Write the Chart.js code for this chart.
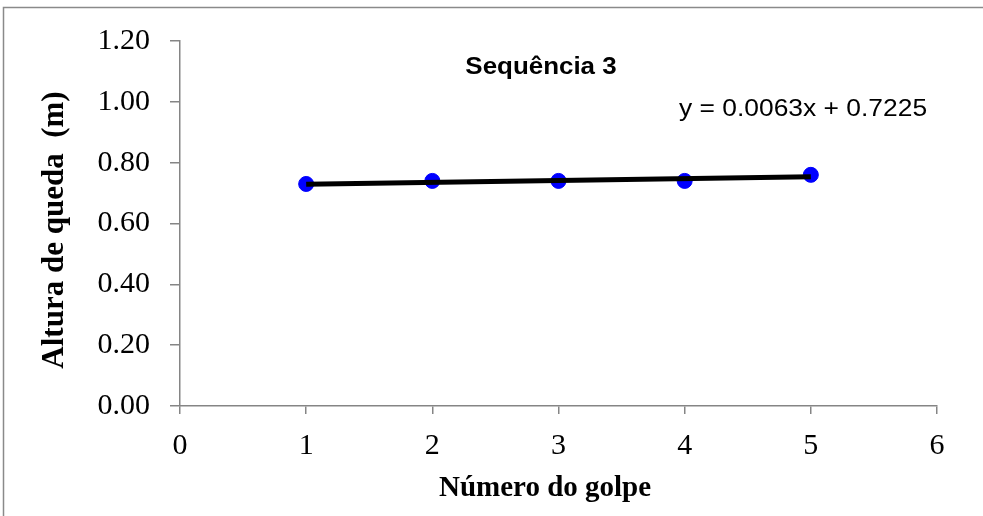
<!DOCTYPE html>
<html>
<head>
<meta charset="utf-8">
<script src="https://cdn.jsdelivr.net/npm/chart.js@4"></script>
<style>
  html, body { margin: 0; padding: 0; background: #fff; overflow: hidden; }
  #wrap { width: 983px; height: 516px; position: relative; }
  canvas { display: block; }
</style>
</head>
<body>
<div id="wrap"><canvas id="chart" width="983" height="516"></canvas></div>
<script>
// ----- Data -----
const golpes = [1, 2, 3, 4, 5];
const alturas = [0.73, 0.74, 0.74, 0.74, 0.76];

// trendline shown in the chart: y = 0.0063x + 0.7225
const trendSlope = 0.0063;
const trendIntercept = 0.7225;
const trendRange = [1, 5];

const chartTitle = "Sequência 3";
const equationText = "y = 0.0063x + 0.7225";
const xTitle = "Número do golpe";
const yTitle = "Altura de queda  (m)";

const axisGray = "#858585";

// Draws the outer frame, the titles and the trendline equation
const decorations = {
  id: "decorations",
  beforeDraw(chart) {
    const { ctx } = chart;
    ctx.save();
    ctx.fillStyle = "#fff";
    ctx.fillRect(0, 0, chart.width, chart.height);
    ctx.strokeStyle = "#8a8a8a";
    ctx.lineWidth = 1.5;
    ctx.strokeRect(3.5, 7.5, 1000, 520);
    ctx.restore();
  },
  afterDraw(chart) {
    const { ctx } = chart;
    ctx.save();
    ctx.fillStyle = "#000";
    ctx.textBaseline = "alphabetic";

    // Arial texts look a bit wider in the original
    ctx.save();
    ctx.font = "bold 24px 'Liberation Sans', Arial, sans-serif";
    ctx.textAlign = "center";
    ctx.translate(541, 74);
    ctx.scale(1.08, 1);
    ctx.fillText(chartTitle, 0, 0);
    ctx.restore();

    ctx.save();
    ctx.font = "24px 'Liberation Sans', Arial, sans-serif";
    ctx.textAlign = "left";
    ctx.translate(679, 116);
    ctx.scale(1.1, 1);
    ctx.fillText(equationText, 0, 0);
    ctx.restore();

    ctx.font = "bold 29px 'Liberation Serif', 'Times New Roman', serif";
    ctx.textAlign = "center";
    ctx.fillText(xTitle, 545, 496);

    ctx.font = "bold 31px 'Liberation Serif', 'Times New Roman', serif";
    ctx.translate(63, 230);
    ctx.rotate(-Math.PI / 2);
    ctx.fillText(yTitle, 0, 0);
    ctx.restore();
  }
};

document.addEventListener("DOMContentLoaded", () => {
  const ctx = document.getElementById("chart").getContext("2d");
  const tickFont = { family: "'Liberation Serif', 'Times New Roman', serif", size: 30 };

  new Chart(ctx, {
    type: "scatter",
    data: {
      datasets: [
        {
          label: "Tendência",
          type: "line",
          data: trendRange.map(x => ({ x, y: trendSlope * x + trendIntercept })),
          borderColor: "#000",
          borderWidth: 5,
          pointRadius: 0,
          fill: false,
          order: 0,
        },
        {
          label: chartTitle,
          data: golpes.map((g, i) => ({ x: g, y: alturas[i] })),
          backgroundColor: "#0000ff",
          borderColor: "#0000ff",
          pointRadius: 7.5,
          order: 1,
        }
      ]
    },
    options: {
      responsive: false,
      animation: false,
      layout: { padding: { top: 41, right: 46, bottom: 0, left: 0 } },
      plugins: {
        legend: { display: false },
        tooltip: { enabled: false },
      },
      scales: {
        x: {
          type: "linear",
          min: 0,
          max: 6,
          afterFit: s => { s.height = 110; },
          ticks: { stepSize: 1, color: "#000", font: tickFont, padding: 14 },
          grid: { drawOnChartArea: false, drawTicks: true, tickLength: 8, color: axisGray, lineWidth: 1.5 },
          border: { display: true, color: axisGray, width: 1.5 },
        },
        y: {
          type: "linear",
          min: 0,
          max: 1.2,
          afterFit: s => { s.width = 180; },
          ticks: {
            stepSize: 0.2,
            color: "#000",
            font: tickFont,
            padding: 20,
            callback: v => v.toFixed(2),
          },
          grid: { drawOnChartArea: false, drawTicks: true, tickLength: 10, color: axisGray, lineWidth: 1.5 },
          border: { display: true, color: axisGray, width: 1.5 },
        }
      }
    },
    plugins: [decorations]
  });
});
</script>
</body>
</html>
